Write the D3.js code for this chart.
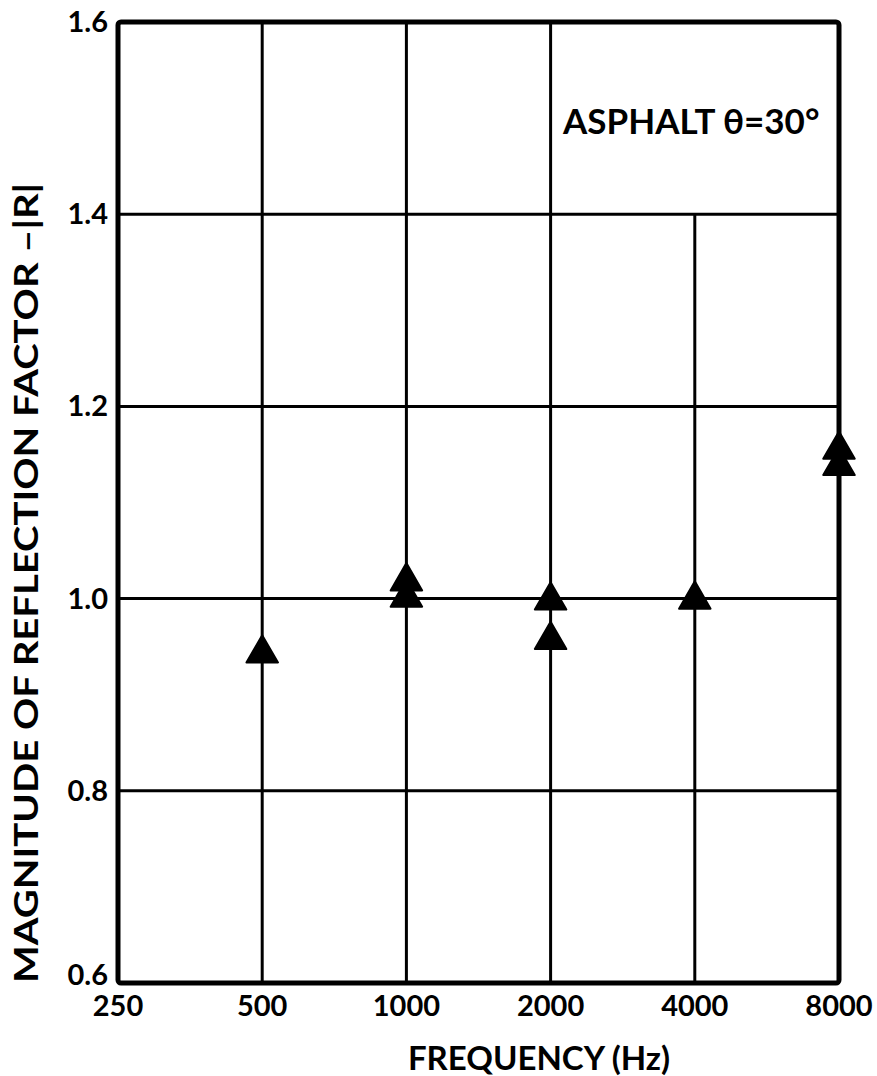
<!DOCTYPE html>
<html>
<head>
<meta charset="utf-8">
<script src="https://cdn.jsdelivr.net/npm/d3@7"></script>
<style>
  html, body { margin: 0; padding: 0; background: #fff; }
  svg { display: block; }
  text { font-family: "Lato", "DejaVu Sans", sans-serif; font-weight: 700; fill: #000; }
</style>
</head>
<body>
<svg id="chart" width="877" height="1076"></svg>
<script>
// ---- data ----
const frequencies = [500, 1000, 1000, 2000, 2000, 4000, 8000, 8000];
const magnitudes  = [0.943, 1.018, 1.001, 0.998, 0.957, 0.999, 1.155, 1.138];
const xTickValues = [250, 500, 1000, 2000, 4000, 8000];
const xTickLabels = ["250", "500", "1000", "2000", "4000", "8000"];
const yTickValues = [0.6, 0.8, 1.0, 1.2, 1.4, 1.6];
const yTickLabels = ["0.6", "0.8", "1.0", "1.2", "1.4", "1.6"];
const xTitle = "FREQUENCY (Hz)";
const yTitle = "MAGNITUDE OF REFLECTION FACTOR –|R|";
const annotation = "ASPHALT θ=30°";

// ---- layout ----
const svg = d3.select("#chart");
const L = 118, R = 839, T = 22, B = 983;

const x = d3.scaleLog().base(2).domain([250, 8000]).range([L, R]);
const y = d3.scaleLinear().domain([0.6, 1.6]).range([B, T]);

// grid: horizontal
svg.append("g").selectAll("line")
  .data(yTickValues.filter(v => v > 0.6 && v < 1.6))
  .join("line")
  .attr("x1", L).attr("x2", R)
  .attr("y1", d => y(d)).attr("y2", d => y(d))
  .attr("stroke", "#000").attr("stroke-width", 3);

// grid: vertical (4000 line stops at 1.4 under the annotation)
svg.append("g").selectAll("line")
  .data(xTickValues.filter(v => v > 250 && v < 8000))
  .join("line")
  .attr("x1", d => x(d)).attr("x2", d => x(d))
  .attr("y1", d => d === 4000 ? y(1.4) : y(1.6))
  .attr("y2", y(0.6))
  .attr("stroke", "#000").attr("stroke-width", 3);

// frame
svg.append("rect")
  .attr("x", L).attr("y", T)
  .attr("width", R - L).attr("height", B - T)
  .attr("rx", 3)
  .attr("fill", "none").attr("stroke", "#000").attr("stroke-width", 5);

// x tick labels
svg.append("g").selectAll("text")
  .data(xTickValues)
  .join("text")
  .attr("x", d => x(d)).attr("y", B + 33)
  .attr("text-anchor", "middle")
  .attr("font-size", 29)
  .text((d, i) => xTickLabels[i]);

// y tick labels
svg.append("g").selectAll("text")
  .data(yTickValues)
  .join("text")
  .attr("x", L - 10).attr("y", d => y(d) + (d === 0.6 ? 2 : 10))
  .attr("text-anchor", "end")
  .attr("font-size", 29)
  .text((d, i) => yTickLabels[i]);

// axis titles
svg.append("text")
  .attr("x", 539).attr("y", 1070)
  .attr("text-anchor", "middle")
  .attr("font-size", 33)
  .text(xTitle);

svg.append("text")
  .attr("transform", "translate(38,583) rotate(-90)")
  .attr("text-anchor", "middle")
  .attr("font-size", 33)
  .attr("textLength", 800)
  .attr("lengthAdjust", "spacingAndGlyphs")
  .text(yTitle);

// annotation
svg.append("text")
  .attr("x", 563).attr("y", 134)
  .attr("font-size", 35)
  .text(annotation);

// markers
const tri = d3.symbol().type(d3.symbolTriangle).size(430);
svg.append("g").selectAll("path")
  .data(frequencies.map((f, i) => ({ f, v: magnitudes[i] })))
  .join("path")
  .attr("transform", d => `translate(${x(d.f)},${y(d.v)})`)
  .attr("d", tri)
  .attr("fill", "#000")
  .attr("stroke", "#000").attr("stroke-width", 2).attr("stroke-linejoin", "round");
</script>
</body>
</html>
